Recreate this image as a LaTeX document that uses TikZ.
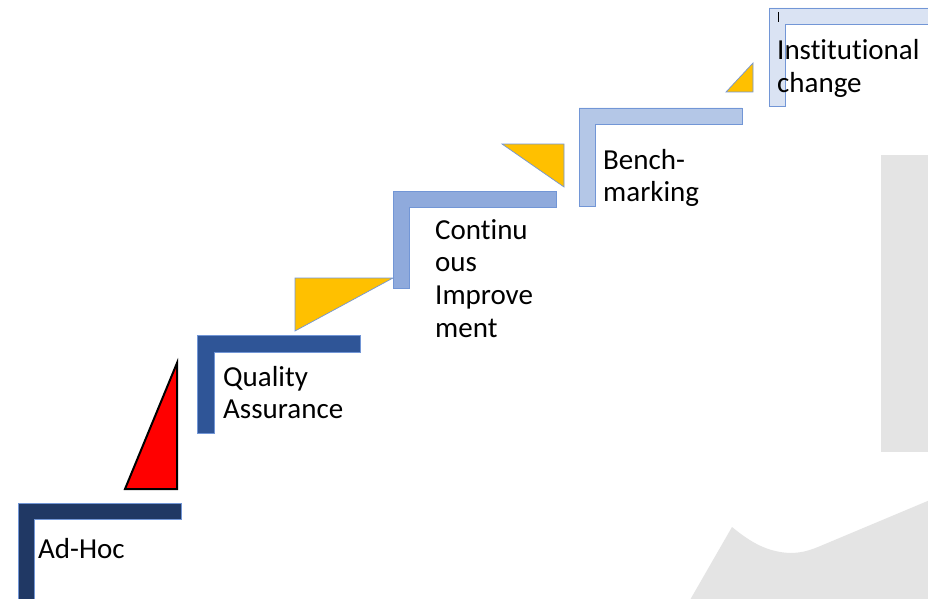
\documentclass[tikz,border=0pt]{standalone}
\usepackage{fontspec}
\setmainfont{Carlito}[Ligatures=NoCommon]
\begin{document}
\begin{tikzpicture}[x=1pt,y=-1pt,
  stair/.style={draw={rgb,255:red,114;green,150;blue,214}, line width=0.7pt},
  wedge/.style={fill={rgb,255:red,255;green,192;blue,0}, draw={rgb,255:red,114;green,150;blue,214}, line width=0.7pt, line join=miter},
  steplabel/.style={anchor=base west, inner sep=0pt, font=\fontsize{29}{32.8}\selectfont},
  emblem/.style={fill={rgb,255:red,228;green,228;blue,228}, draw=none}]
\definecolor{stepA}{RGB}{32,56,100}
\definecolor{stepB}{RGB}{47,85,151}
\definecolor{stepC}{RGB}{143,170,220}
\definecolor{stepD}{RGB}{180,199,231}
\definecolor{stepE}{RGB}{218,227,243}

\useasboundingbox (0,0) rectangle (928,599);
\clip (0,0) rectangle (928,599);
\fill[white] (0,0) rectangle (928,599);

% faint grey emblem in the lower right corner
\path[emblem] (881,155) rectangle (930,452);
\path[emblem] (690,600) -- (732,527)
  .. controls (748,540) and (765,552) .. (790,553)
  .. controls (800,553) and (808,551) .. (818,547)
  -- (930,500) -- (930,600) -- cycle;

% L-shaped steps: outer corner (x,y), right end, bottom, bar thickness
\newcommand\stairstep[6]{%
  \path[stair, fill=#6] (#1,#2) -- (#3,#2) -- (#3,#2+#5) -- (#1+#5,#2+#5)
    -- (#1+#5,#4) -- (#1,#4) -- cycle;}
\stairstep{18}{503}{181}{602}{16}{stepA}
\stairstep{197}{335}{360}{433}{17}{stepB}
\stairstep{393}{191}{556}{288}{16}{stepC}
\stairstep{579}{108}{742}{206}{16}{stepD}
\stairstep{769}{8}{932}{106}{16}{stepE}

% risers between the steps
\coordinate (r1a) at (125,489); \coordinate (r1b) at (177,489); \coordinate (r1c) at (177,363);
\draw[fill=red, draw=black, line width=2pt, line join=miter] (r1a) -- (r1b) -- (r1c) -- cycle;
\coordinate (r2a) at (295,278); \coordinate (r2b) at (393,278); \coordinate (r2c) at (295,331);
\path[wedge] (r2a) -- (r2b) -- (r2c) -- cycle;
\coordinate (r3a) at (502,144); \coordinate (r3b) at (564,144); \coordinate (r3c) at (564,187);
\path[wedge] (r3a) -- (r3b) -- (r3c) -- cycle;
\coordinate (r4a) at (726,92); \coordinate (r4b) at (753,92); \coordinate (r4c) at (753,63);
\path[wedge] (r4a) -- (r4b) -- (r4c) -- cycle;

% text cursor left in the top box
\draw[black, line width=0.8pt] (778,12) -- (778,22);

% step labels
\node[steplabel] (adhoc) at (38,558) {Ad-Hoc};
\node[steplabel] (quality) at (223,386) {\begin{tabular}[t]{@{}l@{}}Quality\\Assurance\end{tabular}};
\node[steplabel] (continuous) at (435,239) {\begin{tabular}[t]{@{}l@{}}Continu\\ous\\Improve\\ment\end{tabular}};
\node[steplabel] (bench) at (603,169) {\begin{tabular}[t]{@{}l@{}}Bench-\\marking\end{tabular}};
\node[steplabel] (institutional) at (777,60) {\begin{tabular}[t]{@{}l@{}}Institutional\\change\end{tabular}};
\end{tikzpicture}
\end{document}
